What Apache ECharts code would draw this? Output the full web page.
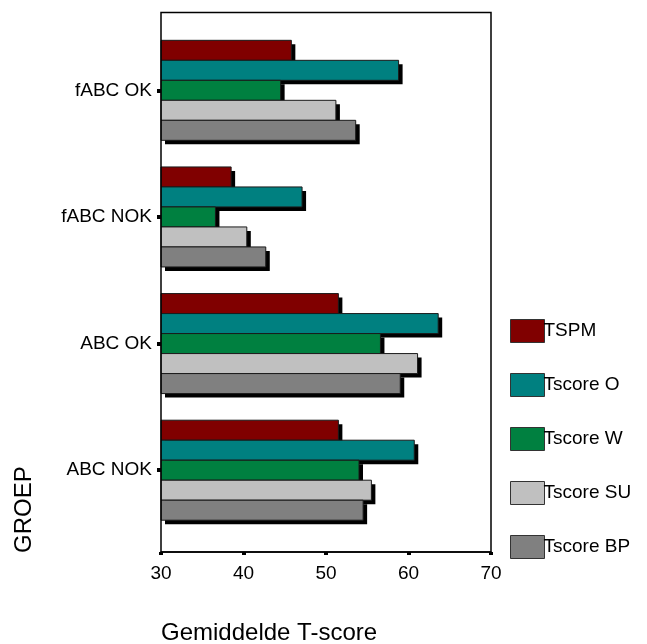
<!DOCTYPE html>
<html>
<head>
<meta charset="utf-8">
<script src="https://cdn.jsdelivr.net/npm/echarts@6/dist/echarts.min.js"></script>
<style>html,body{margin:0;padding:0;background:#fff;}#c{width:647px;height:644px;}</style>
</head>
<body>
<div id="c"></div>
<script>
// Categories from bottom to top of the chart
const categories = ['ABC NOK', 'ABC OK', 'fABC NOK', 'fABC OK'];
const seriesNames = ['TSPM', 'Tscore O', 'Tscore W', 'Tscore SU', 'Tscore BP'];
const tspm     = [51.5, 51.5, 38.5, 45.8];
const tscoreO  = [60.7, 63.6, 47.1, 58.8];
const tscoreW  = [54.0, 56.6, 36.6, 44.5];
const tscoreSU = [55.5, 61.1, 40.4, 51.2];
const tscoreBP = [54.5, 59.0, 42.7, 53.6];
const xTicks = [30, 40, 50, 60, 70];

const values = [tspm, tscoreO, tscoreW, tscoreSU, tscoreBP];
const colors = ['#800000', '#008080', '#008040', '#c0c0c0', '#808080'];
const FONT = 'Liberation Sans, Arial, sans-serif';
const X_MIN = xTicks[0], X_MAX = xTicks[xTicks.length - 1];
const BAR_H = 20, SHADOW = 4;

function makeRender(seriesIdx, nSeries) {
  return function (params, api) {
    const cat = api.value(1);
    const v = api.value(0);
    const p0 = api.coord([X_MIN, cat]);
    const p1 = api.coord([v, cat]);
    const top = p0[1] - (nSeries * BAR_H) / 2 + seriesIdx * BAR_H;
    const w = p1[0] - p0[0];
    return {
      type: 'group',
      children: [
        {type: 'rect', shape: {x: p0[0] + SHADOW, y: top + SHADOW, width: w, height: BAR_H},
         style: {fill: '#000'}},
        {type: 'rect', shape: {x: p0[0], y: top, width: w, height: BAR_H},
         style: {fill: colors[seriesIdx], stroke: '#1a1a1a', lineWidth: 1}}
      ]
    };
  };
}

const chart = echarts.init(document.getElementById('c'), null, {renderer: 'canvas'});
const option = {
  animation: false,
  backgroundColor: '#fff',
  grid: [
    {left: 161, width: 330, top: 27, height: 506.5, containLabel: false},
    {left: 161, width: 330, top: 12.5, height: 539.5, show: true, borderColor: '#000', borderWidth: 1.5, backgroundColor: 'transparent', z: 10}
  ],
  legend: {
    orient: 'vertical',
    left: 505, top: 314,
    itemWidth: 34, itemHeight: 23, itemGap: 30,
    icon: 'rect',
    data: seriesNames,
    textStyle: {fontFamily: FONT, fontSize: 19, color: '#000', padding: [0, 0, 0, -6]},
    itemStyle: {borderColor: '#333', borderWidth: 1}
  },
  xAxis: [
    {gridIndex: 0, type: 'value', min: X_MIN, max: X_MAX, interval: 10, show: false},
    {gridIndex: 1, type: 'value', min: X_MIN, max: X_MAX, interval: 10,
     axisLine: {show: true, lineStyle: {color: '#000', width: 1.5}},
     axisTick: {show: true, length: 3, lineStyle: {color: '#000', width: 4}},
     axisLabel: {color: '#000', fontFamily: FONT, fontSize: 19, margin: 12},
     splitLine: {show: false}}
  ],
  yAxis: [
    {gridIndex: 0, type: 'category', data: categories,
     axisLine: {show: false},
     axisTick: {show: true, alignWithLabel: true, length: 4, lineStyle: {color: '#000', width: 4}},
     axisLabel: {color: '#000', fontFamily: FONT, fontSize: 19, margin: 9}},
    {gridIndex: 1, type: 'value', show: false}
  ],
  title: {
    text: 'Gemiddelde T-score', left: 156, top: 616,
    textStyle: {fontFamily: FONT, fontSize: 24, fontWeight: 'normal', color: '#000'}
  },
  graphic: [{
    type: 'text', x: 12, y: 553, rotation: Math.PI / 2,
    style: {text: 'GROEP', fontFamily: FONT, fontSize: 24, fill: '#000', align: 'left', verticalAlign: 'top'}
  }],
  series: seriesNames.map((name, i) => ({
    name: name,
    type: 'custom',
    xAxisIndex: 0, yAxisIndex: 0,
    encode: {x: 0, y: 1},
    data: values[i].map((v, k) => [v, k]),
    itemStyle: {color: colors[i], borderColor: '#333', borderWidth: 1},
    renderItem: makeRender(i, seriesNames.length)
  }))
};
chart.setOption(option);
</script>
</body>
</html>
